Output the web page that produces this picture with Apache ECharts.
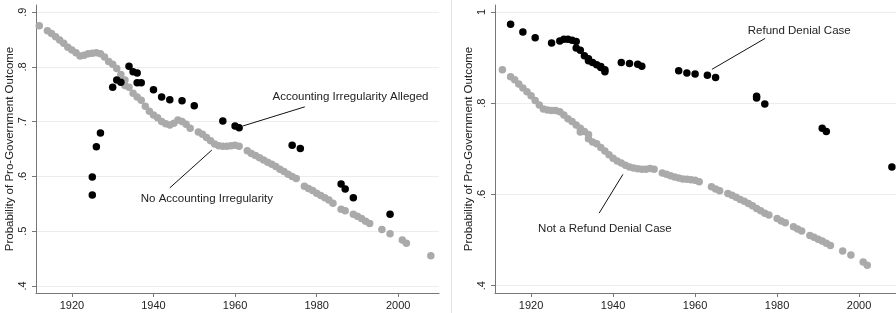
<!DOCTYPE html>
<html>
<head>
<meta charset="utf-8">
<script src="https://cdn.jsdelivr.net/npm/echarts@6/dist/echarts.min.js"></script>
<style>
  html,body{margin:0;padding:0;background:#fff}
  #chart{width:896px;height:313px}
</style>
</head>
<body>
<div id="chart"></div>
<script>
// left panel: accounting irregularity
var noIrregYears = [1912,1914,1915,1916,1917,1918,1919,1920,1921,1922,1923,1924,1925,1926,1927,1928,1929,1930,1931,1932,1933,1933,1934,1935,1936,1937,1938,1939,1940,1941,1942,1943,1944,1945,1946,1947,1948,1949,1951,1952,1953,1954,1955,1956,1957,1958,1959,1960,1961,1963,1964,1965,1966,1967,1968,1969,1970,1971,1972,1973,1974,1975,1977,1978,1979,1980,1981,1982,1983,1984,1986,1987,1989,1990,1991,1992,1993,1996,1998,2001,2002,2008]
var noIrregProb  = [.875,.866,.861,.855,.849,.843,.836,.831,.826,.820,.821,.824,.825,.826,.824,.818,.810,.805,.797,.786,.776,.766,.763,.752,.745,.739,.728,.719,.712,.707,.700,.696,.694,.697,.703,.700,.695,.688,.681,.677,.671,.665,.659,.656,.655,.655,.656,.657,.655,.647,.642,.638,.634,.630,.626,.622,.618,.613,.609,.604,.600,.596,.582,.578,.574,.569,.565,.561,.557,.551,.540,.537,.531,.527,.523,.518,.514,.503,.495,.484,.478,.455]
var irregYears = [1925,1925,1926,1927,1930,1931,1932,1934,1935,1936,1936,1937,1940,1942,1944,1947,1950,1957,1960,1961,1974,1976,1986,1987,1989,1998]
var irregProb  = [.599,.566,.654,.679,.763,.776,.772,.801,.791,.789,.771,.771,.758,.745,.740,.738,.729,.701,.692,.689,.657,.651,.586,.577,.561,.531]

// right panel: refund denial
var notRefundYears = [1913,1915,1916,1917,1918,1919,1920,1921,1922,1923,1924,1925,1926,1927,1928,1929,1930,1931,1932,1932,1933,1934,1934,1935,1936,1937,1938,1939,1940,1941,1942,1943,1944,1945,1946,1947,1948,1949,1950,1952,1953,1954,1955,1956,1957,1958,1959,1960,1961,1964,1965,1966,1968,1969,1970,1971,1972,1973,1974,1975,1976,1977,1978,1980,1981,1982,1984,1985,1986,1988,1989,1990,1991,1992,1993,1996,1998,2001,2002]
var notRefundProb  = [.873,.858,.851,.842,.833,.825,.816,.806,.796,.787,.785,.784,.784,.781,.774,.766,.760,.752,.745,.737,.738,.731,.722,.715,.711,.703,.695,.687,.679,.673,.669,.664,.660,.658,.656,.655,.655,.657,.655,.647,.644,.641,.638,.636,.634,.633,.632,.631,.628,.617,.612,.608,.602,.598,.594,.589,.585,.580,.575,.569,.564,.559,.555,.547,.542,.538,.529,.524,.520,.510,.506,.502,.498,.493,.488,.476,.467,.452,.445]
var refundYears = [1915,1918,1921,1925,1927,1928,1929,1930,1931,1931,1932,1933,1934,1934,1935,1936,1937,1937,1938,1938,1942,1944,1946,1947,1956,1958,1960,1963,1965,1975,1975,1977,1991,1992,2008]
var refundProb  = [.973,.956,.943,.932,.936,.940,.940,.938,.935,.921,.916,.904,.897,.893,.889,.884,.880,.878,.873,.869,.889,.887,.885,.881,.871,.866,.864,.861,.856,.815,.811,.798,.745,.738,.660]

var yearTicks = [1920,1940,1960,1980,2000]
var leftYTicks = [.4,.5,.6,.7,.8,.9]
var rightYTicks = [.4,.6,.8,1]

var FONT = '"Liberation Sans", Arial, Helvetica, sans-serif'
var TEXT = '#222'
var GRAY = '#aaaaaa'
var DOT = 7.5

function zip(xs, ys){
  return xs.map(function(x, i){ return [x, ys[i]] })
}
function probLabel(v){
  return String(+v.toFixed(2)).replace(/^0/, '')
}

function makeX(idx, min, max){
  return {
    gridIndex: idx, type: 'value', min: min, max: max,
    axisLine: {show: true, lineStyle: {color: '#777', width: 1}},
    axisTick: {show: true, length: 4, customValues: yearTicks, lineStyle: {color: '#777'}},
    axisLabel: {customValues: yearTicks, margin: 7, color: TEXT, fontSize: 11, fontFamily: FONT,
      formatter: function(v){ return String(Math.round(v)) }},
    splitLine: {show: false}
  }
}
function makeY(idx, min, max, ticks){
  return {
    gridIndex: idx, type: 'value', min: min, max: max,
    name: 'Probability of Pro-Government Outcome',
    nameLocation: 'middle', nameGap: 16,
    nameTextStyle: {color: TEXT, fontSize: 11.5, fontFamily: FONT},
    axisLine: {show: true, lineStyle: {color: '#777', width: 1}},
    axisTick: {show: true, length: 4, customValues: ticks, lineStyle: {color: '#777'}},
    axisLabel: {customValues: ticks, rotate: 90, margin: 8, color: TEXT, fontSize: 11, fontFamily: FONT,
      formatter: probLabel},
    splitLine: {show: true, lineStyle: {color: '#ededed', width: 1}}
  }
}

// arrow + text annotations, placed in data coords
function arrow(from, to){
  return [{coord: from}, {coord: to}]
}
function note(at, text){
  return {coord: at, symbol: 'circle', symbolSize: 0,
    label: {show: true, position: 'inside', formatter: text, color: TEXT, fontSize: 11.5, fontFamily: FONT}}
}
var markLineStyle = {
  silent: true, symbol: ['none', 'arrow'], symbolSize: [0, 7],
  lineStyle: {color: '#111', width: 1, type: 'solid', opacity: 1}, label: {show: false}
}

var chart = echarts.init(document.getElementById('chart'))
chart.setOption({
  animation: false,
  grid: [
    {left: 36, top: 5, width: 403, height: 288},
    {left: 495, top: 5, width: 401, height: 288}
  ],
  xAxis: [makeX(0, 1911.2, 2010), makeX(1, 1911.2, 2009)],
  yAxis: [makeY(0, .387, .913, leftYTicks), makeY(1, .384, 1.015, rightYTicks)],
  graphic: [{
    type: 'line', silent: true,
    shape: {x1: 451.5, y1: 0, x2: 451.5, y2: 313},
    style: {stroke: '#e2e2e2', lineWidth: 1}
  }],
  series: [{
    name: 'No Accounting Irregularity', type: 'scatter', xAxisIndex: 0, yAxisIndex: 0,
    data: zip(noIrregYears, noIrregProb), symbolSize: DOT, itemStyle: {color: GRAY, opacity: 1},
    markLine: Object.assign({data: [
      arrow([1944.0, .579], [1954.3, .648]),
      arrow([1977.1, .727], [1961.9, .692])
    ]}, markLineStyle),
    markPoint: {silent: true, data: [
      note([1953.1, .559], 'No Accounting Irregularity'),
      note([1988.3, .745], 'Accounting Irregularity Alleged')
    ]}
  }, {
    name: 'Accounting Irregularity Alleged', type: 'scatter', xAxisIndex: 0, yAxisIndex: 0,
    data: zip(irregYears, irregProb), symbolSize: DOT, itemStyle: {color: '#000', opacity: 1}
  }, {
    name: 'Not a Refund Denial Case', type: 'scatter', xAxisIndex: 1, yAxisIndex: 1,
    data: zip(notRefundYears, notRefundProb), symbolSize: DOT, itemStyle: {color: GRAY, opacity: 1},
    markLine: Object.assign({data: [
      arrow([1936.6, .559], [1942.4, .644]),
      arrow([1977.1, .942], [1964.1, .874])
    ]}, markLineStyle),
    markPoint: {silent: true, data: [
      note([1938.0, .524], 'Not a Refund Denial Case'),
      note([1985.4, .958], 'Refund Denial Case')
    ]}
  }, {
    name: 'Refund Denial Case', type: 'scatter', xAxisIndex: 1, yAxisIndex: 1,
    data: zip(refundYears, refundProb), symbolSize: DOT, itemStyle: {color: '#000', opacity: 1}
  }]
})
</script>
</body>
</html>
